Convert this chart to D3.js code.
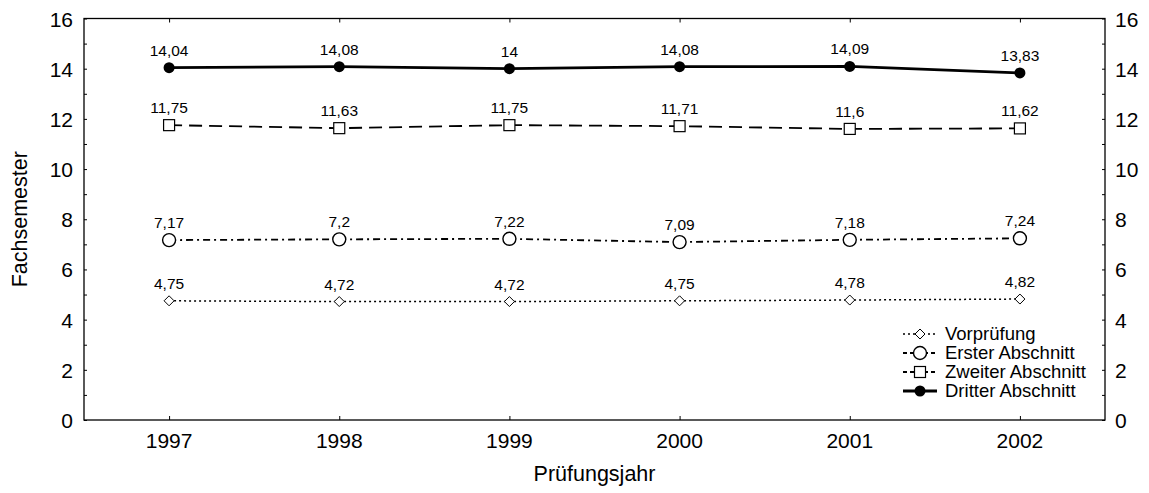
<!DOCTYPE html>
<html>
<head>
<meta charset="utf-8">
<script src="https://cdn.jsdelivr.net/npm/d3@7"></script>
<style>
  body { margin: 0; background: #fff; }
  text { font-family: "Liberation Sans", Arial, sans-serif; fill: #000; }
</style>
</head>
<body>
<div id="root"></div>
<script>
const w = 1149, h = 493;
const margin = { top: 18.5, bottom: 73, left: 84, right: 44 };

const years = [1997, 1998, 1999, 2000, 2001, 2002];
const vorpruefung = [4.75, 4.72, 4.72, 4.75, 4.78, 4.82];
const ersterAbschnitt = [7.17, 7.2, 7.22, 7.09, 7.18, 7.24];
const zweiterAbschnitt = [11.75, 11.63, 11.75, 11.71, 11.6, 11.62];
const dritterAbschnitt = [14.04, 14.08, 14, 14.08, 14.09, 13.83];
const yTicks = [0, 2, 4, 6, 8, 10, 12, 14, 16];

const seriesList = [
    { name: "Vorprüfung", values: vorpruefung, dash: "2,3", width: 1.5, marker: "diamond", legDash: "2,3" },
    { name: "Erster Abschnitt", values: ersterAbschnitt, dash: "7,4,2,4", width: 1.8, marker: "circle", legDash: "4,3" },
    { name: "Zweiter Abschnitt", values: zweiterAbschnitt, dash: "13,7", width: 1.8, marker: "square", legDash: "4,3" },
    { name: "Dritter Abschnitt", values: dritterAbschnitt, dash: null, width: 2.8, marker: "dot", legDash: null }
];

const svg = d3.select("#root").append("svg").attr("width", w).attr("height", h);

const xScale = d3.scaleLinear().domain([1996.5, 2002.5]).range([margin.left, w - margin.right]);
const yScale = d3.scaleLinear().domain([0, 16]).range([h - margin.bottom, margin.top]);

// frame
svg.append("rect")
    .attr("x", margin.left).attr("y", margin.top)
    .attr("width", w - margin.right - margin.left)
    .attr("height", h - margin.bottom - margin.top)
    .attr("fill", "none").attr("stroke", "#000").attr("stroke-width", 1.3);

// axes, ticks inward
const minor = d3.range(0, 17, 1);
const leftAxis = d3.axisRight(yScale).tickValues(minor).tickSize(3).tickFormat("");
svg.append("g").attr("transform", "translate(" + margin.left + ",0)").call(leftAxis);
const rightAxis = d3.axisLeft(yScale).tickValues(minor).tickSize(3).tickFormat("");
svg.append("g").attr("transform", "translate(" + (w - margin.right) + ",0)").call(rightAxis);
const bottomAxis = d3.axisTop(xScale).tickValues(years).tickSize(4).tickFormat("");
svg.append("g").attr("transform", "translate(0," + (h - margin.bottom) + ")").call(bottomAxis);
const topAxis = d3.axisBottom(xScale).tickValues(years).tickSize(4).tickFormat("");
svg.append("g").attr("transform", "translate(0," + margin.top + ")").call(topAxis);
svg.selectAll(".domain").remove();
svg.selectAll(".tick line").attr("stroke", "#000");

// tick labels
svg.append("g").selectAll("text").data(yTicks).enter().append("text")
    .attr("x", margin.left - 11).attr("y", d => yScale(d) + 8)
    .attr("text-anchor", "end").style("font-size", "21px").text(d => d);
svg.append("g").selectAll("text").data(yTicks).enter().append("text")
    .attr("x", w - margin.right + 10).attr("y", d => yScale(d) + 8)
    .attr("text-anchor", "start").style("font-size", "21px").text(d => d);
svg.append("g").selectAll("text").data(years).enter().append("text")
    .attr("x", d => xScale(d)).attr("y", h - margin.bottom + 28)
    .attr("text-anchor", "middle").style("font-size", "21px").text(d => d);

// axis titles
svg.append("text").attr("x", (xScale(1996.5) + xScale(2002.5)) / 2).attr("y", 481)
    .attr("text-anchor", "middle").style("font-size", "21.5px").text("Prüfungsjahr");
svg.append("text").attr("transform", "translate(27," + yScale(8) + ") rotate(-90)")
    .attr("text-anchor", "middle").style("font-size", "21.5px").text("Fachsemester");

function drawMarker(g, type, x, y) {
    if (type === "diamond") {
        g.append("path").attr("d", "M" + x + "," + (y - 5) + "L" + (x + 5) + "," + y + "L" + x + "," + (y + 5) + "L" + (x - 5) + "," + y + "Z")
            .attr("fill", "#fff").attr("stroke", "#000").attr("stroke-width", 1);
    } else if (type === "circle") {
        g.append("circle").attr("cx", x).attr("cy", y).attr("r", 6.5)
            .attr("fill", "#fff").attr("stroke", "#000").attr("stroke-width", 1.4);
    } else if (type === "square") {
        g.append("rect").attr("x", x - 5.5).attr("y", y - 5.5).attr("width", 11).attr("height", 11)
            .attr("fill", "#fff").attr("stroke", "#000").attr("stroke-width", 1.2);
    } else {
        g.append("circle").attr("cx", x).attr("cy", y).attr("r", 5.5).attr("fill", "#000");
    }
}

const line = d3.line().x((d, i) => xScale(years[i])).y(d => yScale(d));
const fmt = v => String(v).replace(".", ",");

seriesList.forEach(s => {
    const g = svg.append("g");
    g.append("path").attr("d", line(s.values)).attr("fill", "none")
        .attr("stroke", "#000").attr("stroke-width", s.width)
        .attr("stroke-dasharray", s.dash);
    s.values.forEach((v, i) => {
        drawMarker(g, s.marker, xScale(years[i]), yScale(v));
        g.append("text").attr("x", xScale(years[i])).attr("y", yScale(v) - 12)
            .attr("text-anchor", "middle").style("font-size", "15.5px").text(fmt(v));
    });
});

// legend
const legend = svg.append("g");
seriesList.forEach((s, i) => {
    const y = 334 + i * 19;
    legend.append("line").attr("x1", 903).attr("x2", 937).attr("y1", y).attr("y2", y)
        .attr("stroke", "#000").attr("stroke-width", s.width).attr("stroke-dasharray", s.legDash);
    drawMarker(legend, s.marker, 920, y);
    legend.append("text").attr("x", 945).attr("y", y + 6).style("font-size", "18.5px").text(s.name);
});
</script>
</body>
</html>
